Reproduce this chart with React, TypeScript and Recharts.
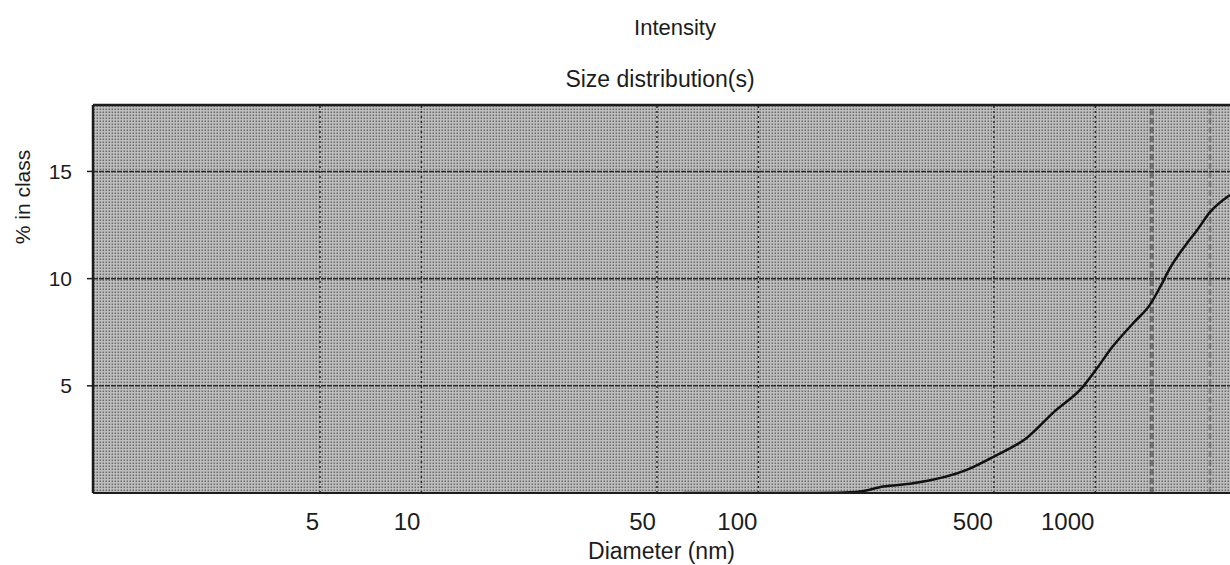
import { Line, LineChart, ReferenceLine, XAxis, YAxis, CartesianGrid, Label } from "recharts";

const FONT = "'Liberation Sans', Arial, sans-serif";
const INK = "#1c1c1c";

// Diameter (nm) vs % in class.
const DIAMETERS = [60, 100, 150, 196, 235, 288, 417, 500, 627, 749, 918, 1031, 1105, 1297, 1455, 1556, 1667, 1871, 2004, 2189, 2510];
const PERCENTS = [0, 0, 0, 0.05, 0.3, 0.45, 1.09, 1.7, 2.58, 3.74, 4.95, 6.0, 6.67, 7.93, 8.8, 9.6, 10.5, 11.65, 12.26, 13.1, 13.9];

const X_TICKS = [5, 10, 50, 100, 500, 1000];
const Y_TICKS = [5, 10, 15];
// Dark vertical streaks left by the scanner near the right edge.
const STREAKS = [1470, 2190];

const X_DOMAIN: [number, number] = [1.06, 2510];
const Y_MAX = 18.1;

const data = DIAMETERS.map((d, i) => ({ d, pct: PERCENTS[i] }));

/** X tick labels sit just left of their gridline, right-aligned. */
function XTick({ x, y, payload }: { x?: number; y?: number; payload?: { value: number } }) {
  if (x == null || y == null || !payload) return null;
  return (
    <text x={x - 1} y={y + 29} textAnchor="end" fontSize={24} fontFamily={FONT} fill={INK}>
      {payload.value}
    </text>
  );
}

function YTitle() {
  return (
    <text
      x={30}
      y={197}
      transform="rotate(-90 30 197)"
      textAnchor="middle"
      fontSize={21}
      fontFamily={FONT}
      fill={INK}
    >
      % in class
    </text>
  );
}

export default function App() {
  return (
    <div style={{ position: "absolute", left: 0, top: 0, width: 1230, height: 565, background: "#fff" }}>
      <svg width={1230} height={100} style={{ position: "absolute", left: 0, top: 0 }}>
        <text x={675} y={35} textAnchor="middle" fontSize={22} fontFamily={FONT} fill={INK}>
          Intensity
        </text>
        <text x={660} y={87} textAnchor="middle" fontSize={23} fontFamily={FONT} fill={INK}>
          Size distribution(s)
        </text>
      </svg>
      <LineChart
        width={1230}
        height={565}
        data={data}
        margin={{ top: 105, right: 0, bottom: 0, left: 0 }}
        style={{ position: "absolute", left: 0, top: 0 }}
      >
        <defs>
          <pattern id="halftone" width="3" height="3" patternUnits="userSpaceOnUse">
            <rect width="3" height="3" fill="#c2c2c2" />
            <rect x="0.5" y="0.5" width="1.6" height="1.6" fill="#6c6c6c" />
          </pattern>
        </defs>
        <CartesianGrid fill="url(#halftone)" fillOpacity={1} horizontal={false} vertical={false} />
        <XAxis
          dataKey="d"
          type="number"
          scale="log"
          domain={X_DOMAIN}
          allowDataOverflow
          ticks={X_TICKS}
          tick={<XTick />}
          tickLine={false}
          axisLine={{ stroke: INK, strokeWidth: 2 }}
          height={72}
        >
          <Label
            value="Diameter (nm)"
            position="insideBottom"
            offset={6}
            style={{ fontSize: 23, fontFamily: FONT, fill: INK }}
          />
        </XAxis>
        <YAxis
          type="number"
          domain={[0, Y_MAX]}
          allowDataOverflow
          ticks={Y_TICKS}
          width={93}
          tickSize={6}
          tickMargin={15}
          tick={{ fontSize: 21, fontFamily: FONT, fill: INK }}
          tickLine={{ stroke: INK, strokeWidth: 1.5 }}
          axisLine={{ stroke: INK, strokeWidth: 2.5 }}
          label={<YTitle />}
        />

        {Y_TICKS.map((v) => (
          <ReferenceLine key={`h${v}`} y={v} stroke="#2a2a2a" strokeWidth={1.5} strokeDasharray="5 1" />
        ))}
        {X_TICKS.map((v) => (
          <ReferenceLine key={`v${v}`} x={v} stroke="#2a2a2a" strokeWidth={1.5} strokeDasharray="2 3" />
        ))}
        {STREAKS.map((v, i) => (
          <ReferenceLine
            key={`s${v}`}
            x={v}
            stroke="#3a3a3a"
            strokeWidth={i === 0 ? 4 : 3}
            strokeOpacity={i === 0 ? 0.55 : 0.35}
            strokeDasharray="6 3"
          />
        ))}
        <ReferenceLine y={Y_MAX} stroke={INK} strokeWidth={2.5} />

        <Line
          dataKey="pct"
          type="monotone"
          stroke="#111"
          strokeWidth={2.5}
          dot={false}
          activeDot={false}
          isAnimationActive={false}
        />
      </LineChart>
    </div>
  );
}
